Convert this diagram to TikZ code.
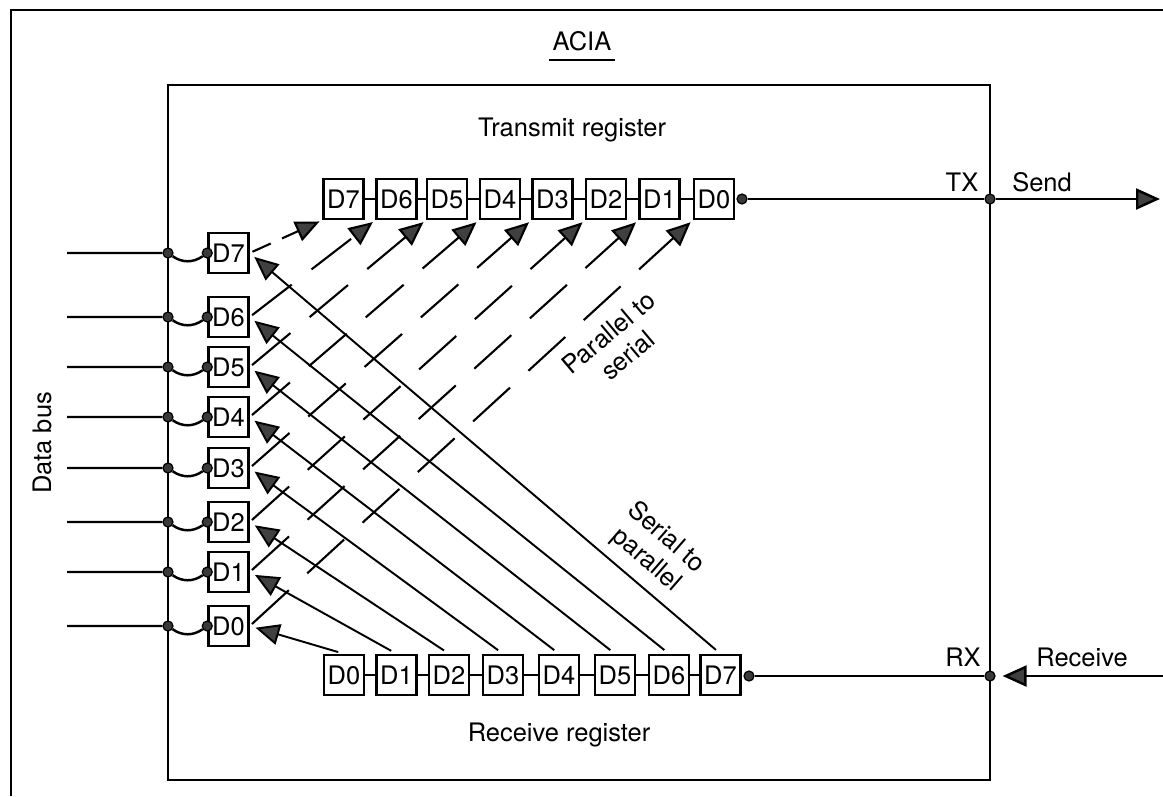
\documentclass[tikz,border=0pt]{standalone}
\usepackage{fontspec}
\setmainfont{TeX Gyre Heros}
\usetikzlibrary{arrows.meta}
\tikzset{
  regbox/.style={draw, line width=1.4pt, fill=white, minimum width=0.8cm, minimum height=0.8cm, inner sep=0pt, font=\fontsize{14.5}{16}\selectfont},
  pin/.style={circle, draw, fill=gray!45!black, line width=0.7pt, minimum size=0.2cm, inner sep=0pt},
  txt/.style={font=\fontsize{14.5}{17}\selectfont},
  wire/.style={line width=1.4pt},
  tri/.style={-{Triangle[length=0.48cm, width=0.42cm, fill=gray!50!black]}},
  loadarrow/.style={tri, line width=1.2pt, dash pattern=on 1cm off 0.5cm, shorten <=0.06cm, shorten >=0.06cm},
  shiftarrow/.style={tri, line width=1.1pt, shorten <=0.12cm, shorten >=0.12cm}
}
\begin{document}
\begin{tikzpicture}[x=0.02cm, y=-0.02cm]
  \useasboundingbox (0,0) rectangle (1163,796);
  \draw[wire] (11,796) -- (11,10) -- (1163,10);
  \node[txt, inner xsep=2pt, inner ysep=5pt] (acia) at (582,41) {ACIA};
  \draw[wire] (acia.south west) -- (acia.south east);
  \draw[wire] (168,85) rectangle (990,780);

  \node[txt] (txtitle) at (572,130) {Transmit register};
  \node[txt] (rxtitle) at (559,735) {Receive register};
  \node[txt, rotate=90] (busname) at (42,443) {Data bus};
  \node[txt] (txname) at (962,182) {TX};
  \node[txt] (sendname) at (1042,182) {Send};
  \node[txt] (rxname) at (963,657) {RX};
  \node[txt] (recvname) at (1082,657) {Receive};
  \node[txt, rotate=40, align=center] (p2s) at (618,344) {Parallel to\\serial};
  \node[txt, rotate=-41, align=center] (s2p) at (656,549) {Serial to\\parallel};

  % transmit register
  \node[regbox] (tx7) at (343.5,199) {D7};
  \node[regbox] (tx6) at (396.5,199) {D6};
  \node[regbox] (tx5) at (447,199) {D5};
  \node[regbox] (tx4) at (500,199) {D4};
  \node[regbox] (tx3) at (552.5,199) {D3};
  \node[regbox] (tx2) at (606,199) {D2};
  \node[regbox] (tx1) at (659.5,199) {D1};
  \node[regbox] (tx0) at (714,199) {D0};
  \draw[wire] (tx7) -- (tx6) -- (tx5) -- (tx4) -- (tx3) -- (tx2) -- (tx1) -- (tx0);
  \node[pin] (txout) at (742,199) {};
  \node[pin] (txpin) at (990,199) {};
  \coordinate (sendend) at (1160,199);
  \draw[wire] (txout) -- (txpin);
  \draw[wire, tri] (txpin) -- (sendend);

  % receive register
  \node[regbox] (rx0) at (344,675) {D0};
  \node[regbox] (rx1) at (396.5,675) {D1};
  \node[regbox] (rx2) at (449,675) {D2};
  \node[regbox] (rx3) at (503,675) {D3};
  \node[regbox] (rx4) at (559,675) {D4};
  \node[regbox] (rx5) at (615,675) {D5};
  \node[regbox] (rx6) at (669,675) {D6};
  \node[regbox] (rx7) at (720.5,675) {D7};
  \draw[wire] (rx0) -- (rx1) -- (rx2) -- (rx3) -- (rx4) -- (rx5) -- (rx6) -- (rx7);
  \node[pin] (rxin) at (749,676) {};
  \node[pin] (rxpin) at (990,676) {};
  \coordinate (recvend) at (1163,676);
  \draw[wire] (rxin) -- (rxpin);
  \draw[wire, tri, shorten >=0.14cm] (recvend) -- (rxpin);

  % data bus side
  \node[regbox] (bus7) at (228.5,253) {D7};
  \node[regbox] (bus6) at (228.5,317) {D6};
  \node[regbox] (bus5) at (228.5,367) {D5};
  \node[regbox] (bus4) at (228.5,417) {D4};
  \node[regbox] (bus3) at (228.5,468) {D3};
  \node[regbox] (bus2) at (228.5,522) {D2};
  \node[regbox] (bus1) at (228.5,572) {D1};
  \node[regbox] (bus0) at (228.5,626) {D0};
  \coordinate (wire7) at (67,253);
  \coordinate (wire6) at (67,317);
  \coordinate (wire5) at (67,367);
  \coordinate (wire4) at (67,417);
  \coordinate (wire3) at (67,468);
  \coordinate (wire2) at (67,522);
  \coordinate (wire1) at (67,572);
  \coordinate (wire0) at (67,626);
  \node[pin] (tap7) at (168,253) {};
  \node[pin] (tap6) at (168,317) {};
  \node[pin] (tap5) at (168,367) {};
  \node[pin] (tap4) at (168,417) {};
  \node[pin] (tap3) at (168,468) {};
  \node[pin] (tap2) at (168,522) {};
  \node[pin] (tap1) at (168,572) {};
  \node[pin] (tap0) at (168,626) {};
  \node[pin] (hook7) at (bus7.west) {};
  \node[pin] (hook6) at (bus6.west) {};
  \node[pin] (hook5) at (bus5.west) {};
  \node[pin] (hook4) at (bus4.west) {};
  \node[pin] (hook3) at (bus3.west) {};
  \node[pin] (hook2) at (bus2.west) {};
  \node[pin] (hook1) at (bus1.west) {};
  \node[pin] (hook0) at (bus0.west) {};
  \draw[wire] (wire7) -- (tap7) to[bend right=35] (hook7);
  \draw[wire] (wire6) -- (tap6) to[bend right=35] (hook6);
  \draw[wire] (wire5) -- (tap5) to[bend right=35] (hook5);
  \draw[wire] (wire4) -- (tap4) to[bend right=35] (hook4);
  \draw[wire] (wire3) -- (tap3) to[bend right=35] (hook3);
  \draw[wire] (wire2) -- (tap2) to[bend right=35] (hook2);
  \draw[wire] (wire1) -- (tap1) to[bend right=35] (hook1);
  \draw[wire] (wire0) -- (tap0) to[bend right=35] (hook0);

  % parallel to serial
  \draw[loadarrow, dash pattern=on 0.4cm off 0.25cm] (bus7.east) -- (tx7.south west);
  \draw[loadarrow] (bus6.east) -- (tx6.south west);
  \draw[loadarrow] (bus5.east) -- (tx5.south west);
  \draw[loadarrow] (bus4.east) -- (tx4.south west);
  \draw[loadarrow] (bus3.east) -- (tx3.south west);
  \draw[loadarrow] (bus2.east) -- (tx2.south west);
  \draw[loadarrow] (bus1.east) -- (tx1.south west);
  \draw[loadarrow] (bus0.east) -- (tx0.south west);

  % serial to parallel
  \draw[shiftarrow] (rx7.north) -- (bus7.east);
  \draw[shiftarrow] (rx6.north) -- (bus6.east);
  \draw[shiftarrow] (rx5.north) -- (bus5.east);
  \draw[shiftarrow] (rx4.north) -- (bus4.east);
  \draw[shiftarrow] (rx3.north) -- (bus3.east);
  \draw[shiftarrow] (rx2.north) -- (bus2.east);
  \draw[shiftarrow] (rx1.north) -- (bus1.east);
  \draw[shiftarrow] (rx0.north) -- (bus0.east);
\end{tikzpicture}
\end{document}
